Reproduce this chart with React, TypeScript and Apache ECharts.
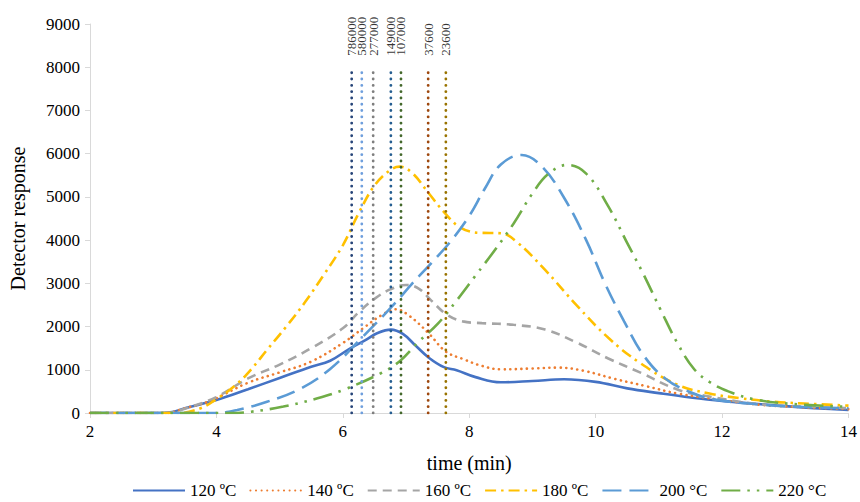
import React, { useEffect, useRef } from "react";
import * as echarts from "echarts";

const FONT = "'Liberation Serif', 'Times New Roman', serif";

const seriesNames = ["120 ºC", "140 ºC", "160 ºC", "180 ºC", "200 °C", "220 °C"];
const seriesColors = ["#4472C4", "#ED7D31", "#A5A5A5", "#FFC000", "#5B9BD5", "#70AD47"];

const s120: [number, number][] = [
  [2, 0], [3, 0], [3.3, 25], [3.5, 110], [4.0, 300], [4.5, 550], [5.0, 810], [5.5, 1070],
  [5.8, 1210], [6.1, 1480], [6.35, 1680], [6.55, 1850], [6.76, 1930], [6.95, 1830], [7.15, 1560],
  [7.36, 1280], [7.6, 1060], [7.8, 990], [8.1, 830], [8.5, 710], [9.0, 740], [9.5, 780],
  [10.0, 720], [10.5, 570], [11.0, 460], [11.5, 360], [12, 280], [13, 160], [14, 70],
];
const s140: [number, number][] = [
  [2, 0], [3.2, 0], [3.5, 110], [3.9, 280], [4.5, 700], [5.0, 940], [5.5, 1190], [6.0, 1620],
  [6.32, 1960], [6.6, 2250], [6.84, 2400], [7.05, 2250], [7.36, 1840], [7.63, 1420], [7.9, 1250],
  [8.2, 1090], [8.5, 1010], [9.0, 1030], [9.4, 1050], [9.8, 980], [10.3, 790], [10.8, 620],
  [11.3, 450], [12, 300], [12.6, 190], [13.3, 130], [14, 90],
];
const s160: [number, number][] = [
  [2, 0], [3.2, 0], [3.5, 100], [4.0, 370], [4.5, 800], [5.0, 1120], [5.5, 1500], [6.0, 1960],
  [6.25, 2330], [6.5, 2640], [6.75, 2860], [7.0, 2960], [7.2, 2880], [7.4, 2600], [7.65, 2270],
  [7.9, 2120], [8.2, 2080], [8.7, 2040], [9.2, 1930], [9.7, 1630], [10.2, 1260], [10.7, 940],
  [11.3, 540], [11.8, 380], [12.6, 200], [13.3, 150], [14, 110],
];
const s180: [number, number][] = [
  [2, 0], [3.4, 0], [3.75, 110], [4.0, 320], [4.3, 640], [4.55, 1010], [4.8, 1460], [5.1, 1990],
  [5.4, 2560], [5.7, 3200], [6.0, 3880], [6.25, 4620], [6.5, 5260], [6.75, 5620], [6.9, 5700],
  [7.1, 5550], [7.35, 5100], [7.6, 4650], [7.85, 4300], [8.15, 4170], [8.5, 4160], [8.75, 3960],
  [9.2, 3310], [9.7, 2490], [10.2, 1740], [10.7, 1160], [11.3, 650], [11.8, 450], [12.3, 340],
  [12.8, 262], [13.3, 220], [14, 170],
];
const s200: [number, number][] = [
  [2, 0], [4.0, 0], [4.33, 70], [4.8, 260], [5.3, 540], [5.8, 1020], [6.3, 1740], [6.8, 2500],
  [7.1, 3000], [7.4, 3470], [7.7, 3960], [8.0, 4560], [8.25, 5200], [8.5, 5750], [8.83, 5970],
  [9.15, 5700], [9.5, 4980], [9.85, 4000], [10.15, 2990], [10.45, 2120], [10.76, 1330], [11.1, 800],
  [11.5, 480], [11.9, 310], [12.65, 190], [13.3, 140], [14, 110],
];
const s220: [number, number][] = [
  [2, 0], [4.2, 0], [4.55, 30], [5.06, 150], [5.6, 340], [6.0, 530], [6.6, 920], [6.9, 1200],
  [7.2, 1650], [7.5, 2060], [7.8, 2600], [8.1, 3180], [8.4, 3760], [8.7, 4380], [9.0, 5080],
  [9.25, 5530], [9.55, 5740], [9.85, 5540], [10.2, 4780], [10.5, 3930], [10.76, 3200], [11.03, 2380],
  [11.3, 1600], [11.55, 1030], [11.8, 720], [12.1, 500], [12.5, 320], [13.1, 210], [14, 145],
];
const seriesData = [s120, s140, s160, s180, s200, s220];
const seriesDash: (string | number[])[] = [
  "solid",
  [0.1, 5.5],
  [9, 6],
  [11, 5, 2.5, 5],
  [19, 8],
  [19, 7, 2.5, 7, 2.5, 7],
];
const seriesCap = ["butt", "round", "butt", "butt", "butt", "butt"];

const markerTimes = [6.14, 6.3, 6.48, 6.76, 6.92, 7.35, 7.63];
const markerLabels = ["786000", "580000", "277000", "149000", "107000", "37600", "23600"];
const markerColors = ["#264478", "#6F9FDD", "#7F7F7F", "#255E91", "#43682B", "#9E480E", "#997300"];
const markerTop = 8000;

const xTicks = { min: 2, max: 14, interval: 2 };
const yTicks = { min: 0, max: 9000, interval: 1000 };

export default function App() {
  const ref = useRef<HTMLDivElement>(null);
  useEffect(() => {
    if (!ref.current) return;
    const chart = echarts.init(ref.current, undefined, { renderer: "svg" });
    const mainSeries = seriesNames.map((name, i) => ({
      name,
      type: "line",
      data: seriesData[i],
      smooth: 0.4,
      symbol: "none",
      z: 2,
      itemStyle: { color: seriesColors[i] },
      lineStyle: { color: seriesColors[i], width: 2.6, type: seriesDash[i], cap: seriesCap[i] },
    }));
    const markerSeries = markerTimes.map((t, i) => ({
      name: markerLabels[i],
      type: "line",
      data: [[t, 0], [t, markerTop]],
      symbol: "none",
      silent: true,
      z: 4,
      lineStyle: { color: markerColors[i], width: 2.8, type: [0.1, 6.2], cap: "round" },
    }));
    const labelSeries = {
      name: "labels",
      type: "scatter",
      data: markerTimes.map((t) => [t, markerTop]),
      symbolSize: 1,
      silent: true,
      z: 5,
      itemStyle: { color: "rgba(0,0,0,0)" },
      label: {
        show: true,
        position: "top",
        distance: 4,
        offset: [7, 0],
        rotate: 90,
        align: "left",
        verticalAlign: "middle",
        fontSize: 13,
        fontFamily: FONT,
        color: "#000",
        formatter: (p: any) => markerLabels[p.dataIndex],
      },
    };
    chart.setOption({
      animation: false,
      grid: { left: 88, right: 7, top: 24, bottom: 89 },
      legend: {
        data: seriesNames,
        left: 127,
        top: 477,
        itemWidth: 52,
        itemHeight: 14,
        itemGap: 13,
        itemStyle: { opacity: 0 },
        textStyle: { fontSize: 17, color: "#000", fontFamily: FONT },
      },
      xAxis: {
        type: "value",
        ...xTicks,
        name: "time (min)",
        nameLocation: "middle",
        nameGap: 40,
        nameTextStyle: { fontSize: 20, color: "#000", fontFamily: FONT },
        axisLine: { show: true, lineStyle: { color: "#D9D9D9", width: 1 } },
        axisTick: { show: true, length: 5, lineStyle: { color: "#D9D9D9" } },
        axisLabel: { fontSize: 17, color: "#000", margin: 10, fontFamily: FONT },
        splitLine: { show: false },
      },
      yAxis: {
        type: "value",
        ...yTicks,
        name: "Detector response",
        nameLocation: "middle",
        nameGap: 62,
        nameTextStyle: { fontSize: 20, color: "#000", fontFamily: FONT },
        axisLine: { show: true, lineStyle: { color: "#D9D9D9", width: 1 } },
        axisTick: { show: true, length: 5, lineStyle: { color: "#D9D9D9" } },
        axisLabel: {
          fontSize: 17,
          color: "#000",
          margin: 10,
          fontFamily: FONT,
          formatter: (v: number) => String(v),
        },
        splitLine: { show: false },
      },
      series: [...mainSeries, ...markerSeries, labelSeries],
    });
    return () => chart.dispose();
  }, []);
  return (
    <div
      ref={ref}
      style={{ position: "absolute", left: 0, top: 0, width: 860, height: 502 }}
    />
  );
}
